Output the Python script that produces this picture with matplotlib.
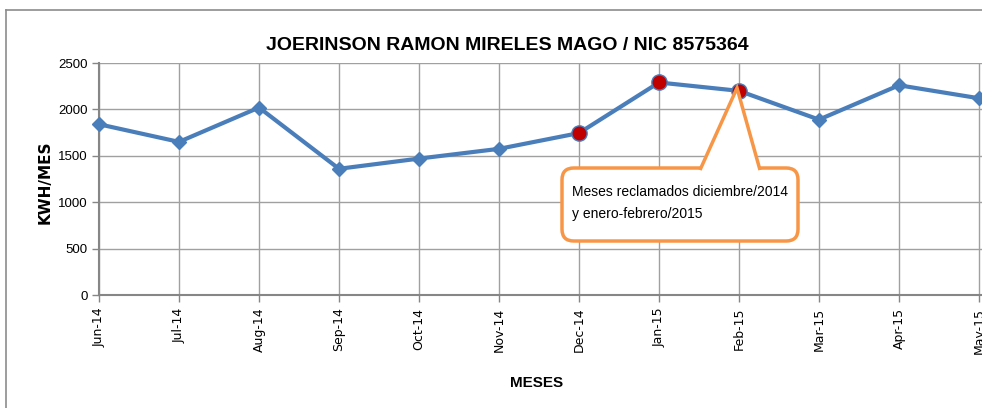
import matplotlib
matplotlib.use("Agg")
import matplotlib.pyplot as plt
from matplotlib.patches import FancyBboxPatch, Polygon
from matplotlib.lines import Line2D

months = ["Jun-14", "Jul-14", "Aug-14", "Sep-14", "Oct-14", "Nov-14",
          "Dec-14", "Jan-15", "Feb-15", "Mar-15", "Apr-15", "May-15"]
kwh = [1840, 1650, 2020, 1360, 1470, 1575, 1745, 2290, 2200, 1890, 2260, 2120]
claimed = ["Dec-14", "Jan-15", "Feb-15"]
title = "JOERINSON RAMON MIRELES MAGO / NIC 8575364"
callout_text = "Meses reclamados diciembre/2014\ny enero-febrero/2015"

narrow = ["Liberation Sans", "DejaVu Sans"]

W, H = 982, 408
fig = plt.figure(figsize=(W / 100, H / 100), dpi=100)
fig.patch.set_facecolor("white")

def fx(px):
    return px / W

def fy(py):
    return 1 - py / H

ax = fig.add_axes([fx(99), fy(295), fx(982) - fx(99), fy(63) - fy(295)])
x = list(range(len(months)))
ax.plot(x, kwh, color="#4A7EBB", lw=3, marker="D", ms=7, zorder=3, clip_on=False)
cx = [months.index(m) for m in claimed]
cy = [kwh[i] for i in cx]
ax.plot(cx, cy, ls="none", marker="o", ms=11, mfc="#C00000", mec="#4A7EBB",
        mew=1, zorder=4, clip_on=False)

ax.set_xlim(0, (982 - 99) / 80)
ax.set_ylim(0, 2500)
ax.set_yticks(range(0, 2501, 500))
ax.set_xticks(x)
ax.set_xticklabels(months, rotation=90, fontsize=9, family="DejaVu Sans")
for lab in ax.get_yticklabels():
    lab.set_family(narrow)
    lab.set_fontsize(9.5)
ax.grid(True, color="#A0A0A0", lw=1)
ax.set_axisbelow(True)
for s in ["top", "right"]:
    ax.spines[s].set_visible(False)
for s in ["left", "bottom"]:
    ax.spines[s].set_color("#868686")
    ax.spines[s].set_linewidth(1.5)
ax.tick_params(axis="both", color="#868686", length=5, width=1)
ax.tick_params(axis="y", pad=3)
ax.tick_params(axis="x", pad=4)

fig.text(fx(507), fy(45), title, ha="center", va="center", fontsize=14,
         fontweight="bold", family=narrow)
fig.text(fx(45), fy(182), "KWH/MES", ha="center", va="center", rotation=90,
         fontsize=11, fontweight="bold", family="DejaVu Sans")
fig.text(fx(537), fy(383), "MESES", ha="center", va="center", fontsize=11,
         fontweight="bold", family=narrow)

# outer chart border (top and left)
fig.add_artist(Line2D([fx(6), fx(6)], [fy(10), 0], color="#8C8C8C", lw=1.2,
                      transform=fig.transFigure))
fig.add_artist(Line2D([fx(6), 1], [fy(10), fy(10)], color="#8C8C8C", lw=1.2,
                      transform=fig.transFigure))

# callout
orange = "#F79646"
box = FancyBboxPatch((fx(562), fy(241)), fx(798) - fx(562), fy(168) - fy(241),
                     boxstyle="round,pad=0,rounding_size=0.012",
                     transform=fig.transFigure, fc="white", ec=orange, lw=2.5,
                     zorder=5, mutation_aspect=W / H)
fig.add_artist(box)
tri = Polygon([(fx(700), fy(170)), (fx(737), fy(88)), (fx(760), fy(170))],
              closed=False, transform=fig.transFigure, fc="white", ec=orange,
              lw=2.5, zorder=6)
fig.add_artist(tri)
fig.text(fx(572), fy(203), callout_text, ha="left", va="center", fontsize=10,
         family=narrow, linespacing=1.75, zorder=7)

fig.savefig("out.png", dpi=100)
